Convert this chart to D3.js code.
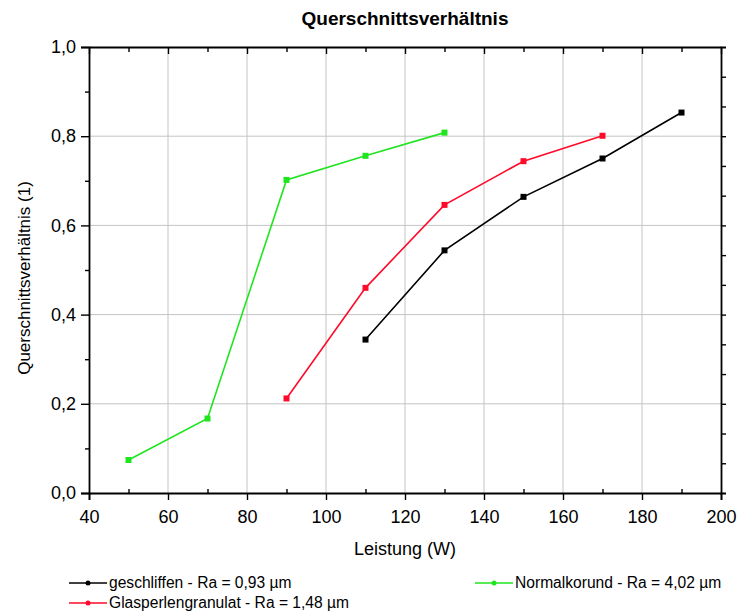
<!DOCTYPE html>
<html>
<head>
<meta charset="utf-8">
<script src="https://cdn.jsdelivr.net/npm/d3@7"></script>
<style>
  body { margin: 0; background: #fff; }
  svg { display: block; font-family: "Liberation Sans", Arial, sans-serif; }
</style>
</head>
<body>
<svg id="chart" width="740" height="614"></svg>
<script>
// Leistung (W) on the x axis, Querschnittsverhältnis on the y axis
const geschliffenX = [110, 130, 150, 170, 190];
const geschliffenY = [0.344, 0.544, 0.664, 0.750, 0.853];

const glasperlenX = [90, 110, 130, 150, 170];
const glasperlenY = [0.212, 0.460, 0.646, 0.744, 0.801];

const normalkorundX = [50, 70, 90, 110, 130];
const normalkorundY = [0.074, 0.167, 0.702, 0.756, 0.808];

const seriesNames = [
  "geschliffen - Ra = 0,93 µm",
  "Glasperlengranulat - Ra = 1,48 µm",
  "Normalkorund - Ra = 4,02 µm"
];
const seriesColors = ["#000000", "#ff0a2a", "#1fe51f"];

const xTicks = [40, 60, 80, 100, 120, 140, 160, 180, 200];
const yTicks = [0, 0.2, 0.4, 0.6, 0.8, 1.0];

const series = [
  { name: seriesNames[0], color: seriesColors[0], pts: geschliffenX.map((x, i) => [x, geschliffenY[i]]) },
  { name: seriesNames[1], color: seriesColors[1], pts: glasperlenX.map((x, i) => [x, glasperlenY[i]]) },
  { name: seriesNames[2], color: seriesColors[2], pts: normalkorundX.map((x, i) => [x, normalkorundY[i]]) }
];

const svg = d3.select("#chart");
const plotLeft = 89, plotRight = 721, plotTop = 47, plotBottom = 493;

const x = d3.scaleLinear().domain([40, 200]).range([plotLeft, plotRight]);
const y = d3.scaleLinear().domain([0, 1]).range([plotBottom, plotTop]);
const fmt = d => d3.format(".1f")(d).replace(".", ",");

// grid
const grid = svg.append("g").attr("stroke", "#c4c4c4").attr("stroke-width", 1);
xTicks.slice(1, -1).forEach(t => grid.append("line")
  .attr("x1", x(t)).attr("x2", x(t)).attr("y1", plotTop).attr("y2", plotBottom));
yTicks.slice(1, -1).forEach(t => grid.append("line")
  .attr("x1", plotLeft).attr("x2", plotRight).attr("y1", y(t)).attr("y2", y(t)));

// bottom axis: major ticks outward, minor ticks inward
const xMinor = d3.range(50, 200, 20);
svg.append("g").attr("transform", `translate(0,${plotBottom})`)
  .call(d3.axisBottom(x).tickValues(xTicks).tickSize(7).tickPadding(10).tickFormat(d3.format("d")));
svg.append("g").attr("transform", `translate(0,${plotBottom})`)
  .call(d3.axisTop(x).tickValues(xMinor).tickSize(4).tickFormat(""))
  .call(g => g.select(".domain").remove());

// left axis
const yMinor = d3.range(0.1, 1.0, 0.2);
svg.append("g").attr("transform", `translate(${plotLeft},0)`)
  .call(d3.axisLeft(y).tickValues(yTicks).tickSize(8).tickPadding(5).tickFormat(fmt));
svg.append("g").attr("transform", `translate(${plotLeft},0)`)
  .call(d3.axisLeft(y).tickValues(yMinor).tickSize(4).tickFormat(""))
  .call(g => g.select(".domain").remove());

// top axis: ticks pointing inside
svg.append("g").attr("transform", `translate(0,${plotTop})`)
  .call(d3.axisBottom(x).tickValues(d3.range(40, 201, 10)).tickSize(0).tickFormat(""))
  .call(g => g.selectAll(".tick line").attr("y2", d => d % 20 === 0 ? 7 : 5));

// right axis: outward ticks
const yRight = d3.range(1, 15).map(i => i / 15);
svg.append("g").attr("transform", `translate(${plotRight},0)`)
  .call(d3.axisRight(y).tickValues(yRight).tickSize(5).tickFormat(""));

svg.selectAll(".domain").attr("stroke", "#000").attr("stroke-width", 1.8);
svg.selectAll(".tick line").attr("stroke", "#000").attr("stroke-width", 1.4);
svg.selectAll(".tick text").attr("fill", "#000").attr("font-size", 18)
  .attr("font-family", "Liberation Sans, Arial, sans-serif");

// series
const line = d3.line().x(d => x(d[0])).y(d => y(d[1]));
series.forEach(s => {
  svg.append("path").datum(s.pts)
    .attr("fill", "none").attr("stroke", s.color).attr("stroke-width", 1.6)
    .attr("d", line);
  svg.append("g").selectAll("rect").data(s.pts).join("rect")
    .attr("x", d => x(d[0]) - 3).attr("y", d => y(d[1]) - 3)
    .attr("width", 6).attr("height", 6).attr("fill", s.color);
});

// title and axis labels
svg.append("text").attr("x", 405).attr("y", 25).attr("text-anchor", "middle")
  .attr("font-size", 19).attr("font-weight", "bold").text("Querschnittsverhältnis");
svg.append("text").attr("x", 405).attr("y", 555).attr("text-anchor", "middle")
  .attr("font-size", 18).text("Leistung (W)");
svg.append("text").attr("transform", "translate(30,278) rotate(-90)")
  .attr("text-anchor", "middle").attr("font-size", 17).text("Querschnittsverhältnis (1)");

// legend
const legendPos = [[69, 583], [69, 603], [475, 583]];
series.forEach((s, i) => {
  const [lx, ly] = legendPos[i];
  const g = svg.append("g").attr("transform", `translate(${lx},${ly})`);
  g.append("line").attr("x1", 0).attr("x2", 38).attr("stroke", s.color).attr("stroke-width", 1.6);
  g.append("circle").attr("cx", 19).attr("cy", 0).attr("r", 2.5).attr("fill", s.color);
  g.append("text").attr("x", 40).attr("dy", "0.35em").attr("font-size", 15.6).text(s.name);
});
</script>
</body>
</html>
